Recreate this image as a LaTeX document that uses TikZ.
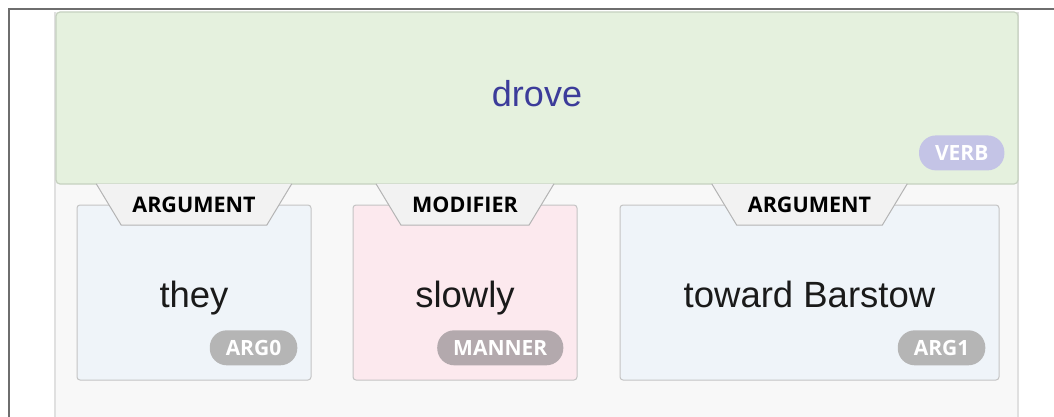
\documentclass[tikz,border=0pt]{standalone}
\usepackage{fontspec}
\usepackage{tikz}
\usetikzlibrary{positioning}
\newfontfamily\wordfont{Liberation Sans}
\newfontfamily\labelfont{Open Sans}
\definecolor{frameline}{HTML}{6E6E6E}
\definecolor{panelfill}{HTML}{F8F8F8}
\definecolor{panelline}{HTML}{E0E0E0}
\definecolor{verbfill}{HTML}{E5F1DE}
\definecolor{verbline}{HTML}{C6D1C0}
\definecolor{verbpill}{HTML}{C4C4E6}
\definecolor{verbtext}{HTML}{3C3C9A}
\definecolor{argfill}{HTML}{EFF4F9}
\definecolor{modfill}{HTML}{FCE9EE}
\definecolor{boxline}{HTML}{C4C4C4}
\definecolor{greypill}{HTML}{B5B5B5}
\definecolor{mannerpill}{HTML}{B3A9AD}
\definecolor{tabfill}{HTML}{F2F2F2}
\definecolor{tabline}{HTML}{B4B4B4}
\definecolor{wordcol}{HTML}{1A1A1A}
\pgfdeclarelayer{front}
\pgfsetlayers{main,front}
\tikzset{
  rolebox/.style={draw=boxline, line width=1pt, rounded corners=3pt,
    minimum height=175pt, inner sep=0pt},
  word/.style={anchor=base, text=wordcol,
    font=\wordfont\fontsize{36.5}{40}\selectfont},
  pill/.style={fill=#1, text=white, rounded corners=17pt, minimum height=35pt,
    inner xsep=16pt, inner ysep=0pt,
    font=\labelfont\bfseries\fontsize{21}{24}\selectfont},
  tablabel/.style={minimum height=41pt, inner xsep=11pt, inner ysep=0pt,
    text=black, font=\labelfont\bfseries\fontsize{21.5}{24}\selectfont}
}

\begin{document}
\begin{tikzpicture}[x=1pt, y=-1pt]
  \useasboundingbox (0,0) rectangle (1054,417);
  % outer frame and panel
  \fill[panelfill] (55,12) rectangle (1018,417);
  \draw[panelline, line width=1.5pt] (55,417) -- (55,12) (1018,12) -- (1018,417);
  \draw[frameline, line width=2pt] (9,417) -- (9,9) -- (1054,9);
  % the verb
  \node[draw=verbline, fill=verbfill, line width=1.2pt, rounded corners=4pt,
    minimum width=962pt, minimum height=172pt, inner sep=0pt] (verb) at (537,98) {};
  \node[anchor=base, text=verbtext, font=\wordfont\fontsize{36}{40}\selectfont]
    (drove) at ([yshift=-9pt]verb.center) {drove};
  \node[pill=verbpill, above left=14pt and 14pt of verb.south east] (verbtag) {VERB};
  % arguments and modifier
  \def\tabh{25}
  \foreach \name/\cx/\bw/\col/\txt/\role/\pc/\tab in {%
      they/194/234/argfill/they/ARG0/greypill/ARGUMENT,
      slowly/465/224/modfill/slowly/MANNER/mannerpill/MODIFIER,
      toward/809.5/379/argfill/toward Barstow/ARG1/greypill/ARGUMENT} {
    \node[rolebox, fill=\col, minimum width=\bw pt] (\name) at (\cx,292.5) {};
    \node[word] (\name-w) at ([yshift=-15pt]\name.center) {\txt};
    \node[pill=\pc, above left=15pt and 14pt of \name.south east] (\name-r) {\role};
    \begin{pgfonlayer}{front}
      \node[tablabel] (\name-t) at (\cx,204.5) {\tab};
    \end{pgfonlayer}
    \fill[tabfill] ([xshift=-\tabh pt]\name-t.north west) -- (\name-t.south west)
      -- (\name-t.south east) -- ([xshift=\tabh pt]\name-t.north east) -- cycle;
    \draw[tabline, line width=1pt] ([xshift=-\tabh pt]\name-t.north west)
      -- (\name-t.south west) -- (\name-t.south east)
      -- ([xshift=\tabh pt]\name-t.north east);
  }
\end{tikzpicture}
\end{document}
